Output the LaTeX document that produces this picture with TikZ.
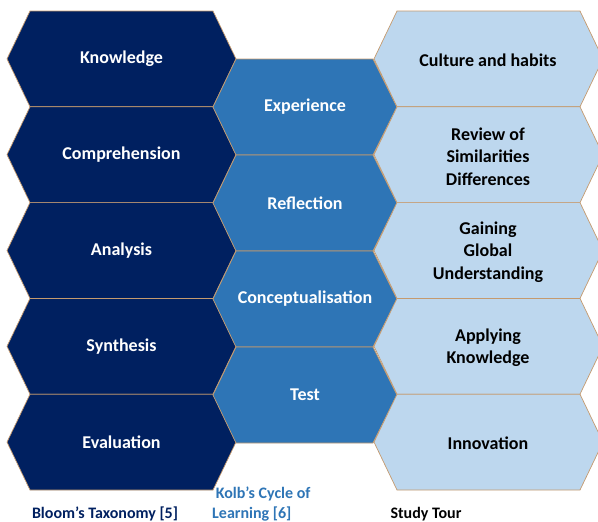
\documentclass[tikz,border=0pt]{standalone}
\usepackage{fontspec}
\setmainfont{Carlito}
\usepackage{xcolor}
\definecolor{bloomblue}{HTML}{002060}
\definecolor{kolbblue}{HTML}{2E75B6}
\definecolor{tourblue}{HTML}{BDD7EE}
\definecolor{hexedge}{HTML}{C59A6E}

\begin{document}
\begin{tikzpicture}
		[x=1pt,y=-1pt,font=\fontsize{18}{22.5}\selectfont\bfseries,
		hexline/.style={draw=hexedge,line width=0.7pt,line join=miter},
		lbl/.style={align=center,inner sep=0pt},
		title/.style={inner sep=0pt,font=\fontsize{16}{20}\selectfont\bfseries}]
		\useasboundingbox (0,0) rectangle (598,522);
		\clip (0,0) rectangle (598,522);
		
		% Bloom's Taxonomy
		\foreach \txt [count=\i from 0] in {Knowledge,Comprehension,Analysis,Synthesis,Evaluation}{
			\pgfmathsetmacro{\yt}{11+95.8*\i}
			\filldraw[hexline,fill=bloomblue] (7,\yt+47.9) -- (30,\yt) -- (213,\yt) -- (236,\yt+47.9) -- (213,\yt+95.8) -- (30,\yt+95.8) -- cycle;
			\node[lbl,text=white] (b\i) at (121.5,\yt+47.9) {\txt};
		}
		
		% Kolb's Cycle of Learning
		\foreach \txt [count=\i from 0] in {Experience,Reflection,Conceptualisation,Test}{
			\pgfmathsetmacro{\yt}{59+96*\i}
			\filldraw[hexline,fill=kolbblue] (213,\yt+48) -- (236,\yt) -- (373,\yt) -- (397,\yt+48) -- (373,\yt+96) -- (236,\yt+96) -- cycle;
			\node[lbl,text=white] (k\i) at (305,\yt+48) {\txt};
		}
		
		% Study Tour
		\foreach \txt [count=\i from 0] in {Culture and habits,{Review of\\Similarities\\Differences},{Gaining\\Global\\Understanding},{Applying\\Knowledge},Innovation}{
			\pgfmathsetmacro{\yt}{11+95.8*\i}
			\filldraw[hexline,fill=tourblue] (374,\yt+47.9) -- (397,\yt) -- (580,\yt) -- (603,\yt+47.9) -- (580,\yt+95.8) -- (397,\yt+95.8) -- cycle;
			\node[lbl,text=black] (s\i) at (488,\yt+49.5) {\txt};
		}
		
		% column titles
		\node[title,text=bloomblue,anchor=base] (bloom) at (105,518) {Bloom’s Taxonomy [5]};
		\node[title,text=kolbblue,align=left,anchor=west] (kolb) at (212,504.5) {\ Kolb’s Cycle of\\Learning [6]};
		\node[title,text=black,anchor=base] (tour) at (426,518) {Study Tour};
		
	\end{tikzpicture}
\end{document}
